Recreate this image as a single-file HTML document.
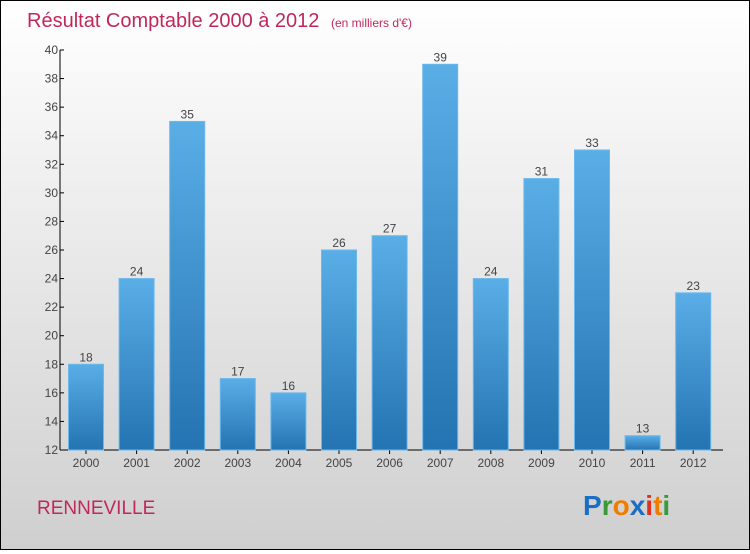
<!DOCTYPE html>
<html><head><meta charset="utf-8"><style>
body{margin:0;width:750px;height:550px;overflow:hidden;font-family:"Liberation Sans",sans-serif}
#wrap{position:relative;width:748px;height:548px;border:1px solid #000;background:linear-gradient(#ffffff,#cfcfcf)}
</style></head><body>
<div id="wrap">
<svg width="748" height="548">
<defs><linearGradient id="bg" x1="0" y1="0" x2="0" y2="1"><stop offset="0" stop-color="#5aaee6"/><stop offset="1" stop-color="#2473b2"/></linearGradient></defs>
<text x="26" y="26" font-size="20" fill="#c0285a">Résultat Comptable 2000 à 2012 <tspan font-size="12" dx="6">(en milliers d'€)</tspan></text>
<g id="axes"></g><g id="bars"></g>
<text x="36" y="513" font-size="19" fill="#c0285a">RENNEVILLE</text>
<text x="582" y="514" font-size="28" font-weight="bold"><tspan fill="#1a6fc4">P</tspan><tspan fill="#3a9a3a">r</tspan><tspan fill="#f07d00">o</tspan><tspan fill="#1a6fc4">x</tspan><tspan fill="#e03020">i</tspan><tspan fill="#f07d00">t</tspan><tspan fill="#3a9a3a">i</tspan></text>
</svg></div>
<script>
const years=["2000","2001","2002","2003","2004","2005","2006","2007","2008","2009","2010","2011","2012"];
const values=[18,24,35,17,16,26,27,39,24,31,33,13,23];
const yTicks=[12,14,16,18,20,22,24,26,28,30,32,34,36,38,40];
const NS="http://www.w3.org/2000/svg";
const y0=449,yMin=12,yMax=40,yTop=49;
function y(v){return y0-(v-yMin)/(yMax-yMin)*(y0-yTop);}
function x(i){return 85+i*50.6;}
function mk(t,a,p){const e=document.createElementNS(NS,t);for(const k in a)e.setAttribute(k,a[k]);p.appendChild(e);return e;}
const ax=document.getElementById('axes'),bg=document.getElementById('bars');
const yl=mk('line',{x1:59,y1:yTop,x2:59,y2:y0,stroke:'#000'},ax);


const xl=mk('line',{x1:59,y1:y0,x2:722,y2:y0,stroke:'#000'},ax);


yTicks.forEach(v=>{
 mk('line',{x1:59,y1:y(v),x2:63,y2:y(v),stroke:'#000'},ax);
 const t=mk('text',{x:57,y:y(v)+4,'text-anchor':'end','font-size':12,fill:'#444'},ax);t.textContent=v;
 
 
});
years.forEach((yr,i)=>{
 const cx=x(i),v=values[i];
 const r=mk('rect',{x:cx-17.5,y:y(v),width:35,height:y0-y(v),fill:'url(#bg)',stroke:'#6bb8ec','stroke-width':1},bg);
 
 
 const lb=mk('text',{x:cx,y:y(v)-3,'text-anchor':'middle','font-size':12,fill:'#444'},bg);lb.textContent=v;
 
 
 mk('line',{x1:cx,y1:y0,x2:cx,y2:y0+4,stroke:'#000'},ax);
 const xt=mk('text',{x:cx,y:466,'text-anchor':'middle','font-size':12,fill:'#444'},ax);xt.textContent=yr;
 
 
});
</script>
</body></html>
